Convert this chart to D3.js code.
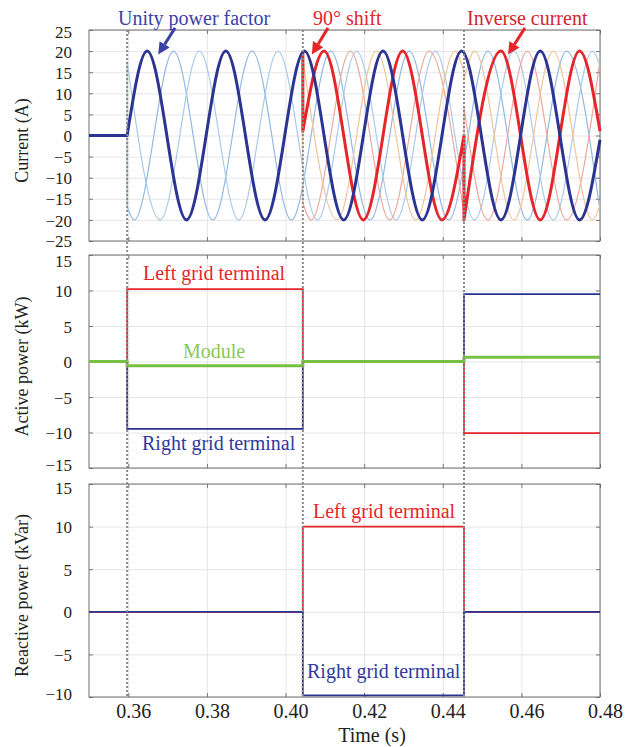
<!DOCTYPE html>
<html>
<head>
<meta charset="utf-8">
<script src="https://cdn.jsdelivr.net/npm/d3@7"></script>
<style>
	body { margin: 0; background: #fff; }
	text { font-family: "Liberation Serif", "Times New Roman", serif; }
</style>
</head>
<body>
<div id="vis"></div>
<script>
// time axis
const TIME_DOMAIN = [0.35, 0.48];
const TIME_TICKS = [0.36, 0.38, 0.40, 0.42, 0.44, 0.46, 0.48];
const EVENT_TIMES = [0.3597, 0.4044, 0.4454];

// y ticks
const CURRENT_TICKS = [-25, -20, -15, -10, -5, 0, 5, 10, 15, 20, 25];
const ACTIVE_TICKS = [-15, -10, -5, 0, 5, 10, 15];
const REACTIVE_TICKS = [-10, -5, 0, 5, 10, 15];

// currents [time, A] read at the peaks / troughs; each inner list is one smooth piece, a new piece = a jump
const BLUE_THICK = [
	[[0.35, 0], [0.3597, 0]],
	[[0.3597, 0], [0.3648, 20], [0.3748, -20], [0.3848, 20], [0.3948, -20], [0.4048, 20], [0.4148, -20],
	 [0.4248, 20], [0.4348, -20], [0.4448, 20], [0.4548, -20], [0.4648, 20], [0.4748, -20], [0.48, -1]]
];
const BLUE_THIN_B = [
	[[0.3597, 0]],
	[[0.3597, -16.9], [0.3615, -20], [0.3715, 20], [0.3815, -20], [0.3915, 20], [0.4015, -20], [0.4115, 20],
	 [0.4215, -20], [0.4315, 20], [0.4415, -20], [0.4515, 20], [0.4615, -20], [0.4715, 20], [0.48, -17.8]]
];
const BLUE_THIN_C = [
	[[0.3597, 0]],
	[[0.3597, 17.5], [0.3681, -20], [0.3781, 20], [0.3881, -20], [0.3981, 20], [0.4081, -20], [0.4181, 20],
	 [0.4281, -20], [0.4381, 20], [0.4481, -20], [0.4581, 20], [0.4681, -20], [0.4781, 20], [0.48, 16.5]]
];
const RED_THICK = [
	[[0.4044, 20]],
	[[0.4044, 1], [0.4098, 20], [0.4198, -20], [0.4298, 20], [0.4398, -20], [0.4454, 0]],
	[[0.4454, -20], [0.4548, 20], [0.4648, -20], [0.4748, 20], [0.48, 1]]
];
const RED_THIN_B = [
	[[0.4044, -12.2]],
	[[0.4044, -15.9], [0.4065, -20], [0.4165, 20], [0.4265, -20], [0.4365, 20], [0.4454, -18.8]],
	[[0.4454, 6.8], [0.4515, -20], [0.4615, 20], [0.4715, -20], [0.48, 17.8]]
];
const RED_THIN_C = [
	[[0.4044, -7.9]],
	[[0.4044, 18.4], [0.4131, -20], [0.4231, 20], [0.4331, -20], [0.4431, 20], [0.4454, 15]],
	[[0.4454, 13.2], [0.4481, 20], [0.4581, -20], [0.4681, 20], [0.4781, -20], [0.48, -16.5]]
];

// active power [time, kW]
const LEFT_ACTIVE = [[0.35, 0], [0.3597, 0], [0.3597, 10.2], [0.4044, 10.2], [0.4044, 0], [0.4454, 0], [0.4454, -10.1], [0.48, -10.1]];
const RIGHT_ACTIVE = [[0.35, 0], [0.3597, 0], [0.3597, -9.5], [0.4044, -9.5], [0.4044, 0], [0.4454, 0], [0.4454, 9.5], [0.48, 9.5]];
const MODULE_ACTIVE = [[0.35, 0], [0.3597, 0], [0.3597, -0.6], [0.4044, -0.6], [0.4044, 0], [0.4454, 0], [0.4454, 0.6], [0.48, 0.6]];

// reactive power [time, kVar]
const LEFT_REACTIVE = [[0.35, 0], [0.4044, 0], [0.4044, 10], [0.4454, 10], [0.4454, 0], [0.48, 0]];
const RIGHT_REACTIVE = [[0.35, 0], [0.4044, 0], [0.4044, -9.8], [0.4454, -9.8], [0.4454, 0], [0.48, 0]];

const BLUE = "#2c3491";
const RED = "#e5262b";
const GREEN = "#78c043";

const FRAME_WIDTH = 637;
const FRAME_HEIGHT = 747;
const LEFT = 89;
const RIGHT = 600;

const FRAME = d3.select("#vis")
				.append("svg")
					.attr("width", FRAME_WIDTH)
					.attr("height", FRAME_HEIGHT)
					.style("background", "#fff");

const X = d3.scaleLinear().domain(TIME_DOMAIN).range([LEFT, RIGHT]);

// nudge = how far the edge tick labels are pulled inside the box
const PANELS = [
	{domain: [-25, 25], top: 30, bottom: 241, ticks: CURRENT_TICKS, title: "Current (A)", nudge: [1, 1]},
	{domain: [-15, 15], top: 255, bottom: 468, ticks: ACTIVE_TICKS, title: "Active power (kW)", nudge: [5, 4]},
	{domain: [-10, 15], top: 484, bottom: 697, ticks: REACTIVE_TICKS, title: "Reactive power (kVar)", nudge: [3, 4]}
];
PANELS.forEach((p) => {
	p.y = d3.scaleLinear().domain(p.domain).range([p.bottom, p.top]);
});

// frames, grids, ticks
PANELS.forEach((p, i) => {
	const W = RIGHT - LEFT;
	const H = p.bottom - p.top;

	// grid
	FRAME.append("g")
		.attr("transform", "translate(0," + p.bottom + ")")
		.call(d3.axisBottom(X).tickValues(TIME_TICKS).tickSize(-H).tickFormat(""))
		.call((g) => g.select(".domain").remove())
		.selectAll("line").attr("stroke", "#e0e0e0").attr("stroke-width", 0.8);
	FRAME.append("g")
		.attr("transform", "translate(" + LEFT + ",0)")
		.call(d3.axisLeft(p.y).tickValues(p.ticks).tickSize(-W).tickFormat(""))
		.call((g) => g.select(".domain").remove())
		.selectAll("line").attr("stroke", "#e0e0e0").attr("stroke-width", 0.8);

	// left axis with labels
	const [lo, hi] = p.domain;
	const left = FRAME.append("g")
		.attr("transform", "translate(" + LEFT + ",0)")
		.call(d3.axisLeft(p.y).tickValues(p.ticks).tickSize(-4).tickPadding(17));
	left.select(".domain").remove();
	left.selectAll("line").attr("stroke", "#777");
	left.selectAll("text")
		.attr("font-size", "17px")
		.attr("font-family", "Liberation Serif")
		.attr("fill", "#222")
		.attr("y", (d) => d === hi ? p.nudge[0] : (d === lo ? -p.nudge[1] : 0))
		.attr("dy", "0.36em");

	// right, top, bottom ticks
	FRAME.append("g")
		.attr("transform", "translate(" + RIGHT + ",0)")
		.call(d3.axisRight(p.y).tickValues(p.ticks).tickSize(-4).tickFormat(""))
		.call((g) => g.select(".domain").remove())
		.selectAll("line").attr("stroke", "#777");
	FRAME.append("g")
		.attr("transform", "translate(0," + p.top + ")")
		.call(d3.axisTop(X).tickValues(TIME_TICKS).tickSize(-4).tickFormat(""))
		.call((g) => g.select(".domain").remove())
		.selectAll("line").attr("stroke", "#777");

	const bottom = FRAME.append("g")
		.attr("transform", "translate(0," + p.bottom + ")")
		.call(d3.axisBottom(X).tickValues(TIME_TICKS).tickSize(-4).tickPadding(7)
			.tickFormat(i === PANELS.length - 1 ? d3.format(".2f") : ""));
	bottom.select(".domain").remove();
	bottom.selectAll("line").attr("stroke", "#777");
	bottom.selectAll("text")
		.attr("font-size", "20px")
		.attr("font-family", "Liberation Serif")
		.attr("dx", 5)
		.attr("fill", "#222");

	// frame
	FRAME.append("rect")
		.attr("x", LEFT)
		.attr("y", p.top)
		.attr("width", W)
		.attr("height", H)
		.attr("fill", "none")
		.attr("stroke", "#6e6e6e")
		.attr("stroke-width", 1);

	// title
	FRAME.append("text")
		.attr("transform", "translate(28," + ((p.top + p.bottom) / 2 + 5) + ") rotate(-90)")
		.attr("text-anchor", "middle")
		.attr("font-size", "18px")
		.attr("fill", "#222")
		.text(p.title);
});

// currents
const CUR = PANELS[0];

function piecePath(y, pieces) {
	const line = d3.line()
					.x((d) => X(d[0]))
					.y((d) => y(d[1]))
					.curve(d3.curveMonotoneX);
	return pieces.map((p, i) => i ? line(p).replace(/^M/, "L") : line(p)).join("");
}

const WAVES = [
	{data: BLUE_THIN_B, color: "#92b8e0", width: 1.2},
	{data: BLUE_THIN_C, color: "#a9cae9", width: 1.2},
	{data: RED_THIN_B, color: "#eca89e", width: 1.2},
	{data: RED_THIN_C, color: "#f0c49a", width: 1.2},
	{data: RED_THICK, color: RED, width: 3},
	{data: BLUE_THICK, color: BLUE, width: 3}
];

FRAME.append("g")
	.selectAll("path")
	.data(WAVES)
	.enter()
	.append("path")
		.attr("d", (d) => piecePath(CUR.y, d.data))
		.attr("fill", "none")
		.attr("stroke", (d) => d.color)
		.attr("stroke-width", (d) => d.width)
		.attr("stroke-linejoin", "round");

// power steps
const STEPS = [
	{panel: PANELS[1], data: LEFT_ACTIVE, color: RED, width: 1.8},
	{panel: PANELS[1], data: RIGHT_ACTIVE, color: BLUE, width: 1.8},
	{panel: PANELS[1], data: MODULE_ACTIVE, color: GREEN, width: 3},
	{panel: PANELS[2], data: LEFT_REACTIVE, color: RED, width: 1.8},
	{panel: PANELS[2], data: RIGHT_REACTIVE, color: BLUE, width: 1.8}
];

FRAME.append("g")
	.selectAll("path")
	.data(STEPS)
	.enter()
	.append("path")
		.attr("d", (d) => d3.line().x((v) => X(v[0])).y((v) => d.panel.y(v[1]))(d.data))
		.attr("fill", "none")
		.attr("stroke", (d) => d.color)
		.attr("stroke-width", (d) => d.width);

// event lines
FRAME.append("g")
	.selectAll("line")
	.data(EVENT_TIMES)
	.enter()
	.append("line")
		.attr("x1", (d) => X(d))
		.attr("x2", (d) => X(d))
		.attr("y1", PANELS[0].top)
		.attr("y2", PANELS[2].bottom)
		.attr("stroke", "#8a8a8a")
		.attr("stroke-width", 2)
		.attr("stroke-dasharray", "2,2");

// annotations (time, value in that panel)
const LABELS = [
	{panel: 0, t: 0.35738, v: 26.2, text: "Unity power factor", color: "#3a42a6"},
	{panel: 0, t: 0.40699, v: 26.2, text: "90° shift", color: RED},
	{panel: 0, t: 0.44616, v: 26.2, text: "Inverse current", color: "#d1262c"},
	{panel: 1, t: 0.36374, v: 11.48, text: "Left grid terminal", color: RED},
	{panel: 1, t: 0.37391, v: 0.49, text: "Module", color: "#8cc654"},
	{panel: 1, t: 0.36348, v: -12.46, text: "Right grid terminal", color: "#2f3aa0"},
	{panel: 2, t: 0.40699, v: 11.03, text: "Left grid terminal", color: RED},
	{panel: 2, t: 0.40546, v: -7.75, text: "Right grid terminal", color: "#2f3aa0"}
];

FRAME.append("g")
	.selectAll("text")
	.data(LABELS)
	.enter()
	.append("text")
		.attr("x", (d) => X(d.t))
		.attr("y", (d) => PANELS[d.panel].y(d.v))
		.attr("font-size", "20px")
		.attr("fill", (d) => d.color)
		.text((d) => d.text);

// arrows (tail -> tip)
const ARROWS = [
	{from: [0.3719, 25.5], to: [0.3676, 19.2], color: "#3a42a6"},
	{from: [0.4108, 25.5], to: [0.4067, 19.2], color: RED},
	{from: [0.4609, 25.5], to: [0.4566, 19.2], color: RED}
];

ARROWS.forEach((a) => {
	const x1 = X(a.from[0]), y1 = CUR.y(a.from[1]);
	const x2 = X(a.to[0]), y2 = CUR.y(a.to[1]);
	const ang = Math.atan2(y2 - y1, x2 - x1);
	const len = 12, half = 6;
	const bx = x2 - len * Math.cos(ang), by = y2 - len * Math.sin(ang);
	FRAME.append("line")
		.attr("x1", x1).attr("y1", y1)
		.attr("x2", bx).attr("y2", by)
		.attr("stroke", a.color)
		.attr("stroke-width", 3);
	FRAME.append("path")
		.attr("d", "M" + x2 + "," + y2 +
			"L" + (bx + half * Math.sin(ang)) + "," + (by - half * Math.cos(ang)) +
			"L" + (bx - half * Math.sin(ang)) + "," + (by + half * Math.cos(ang)) + "Z")
		.attr("fill", a.color);
});

// x title
FRAME.append("text")
	.attr("x", 372)
	.attr("y", 742)
	.attr("text-anchor", "middle")
	.attr("font-size", "20px")
	.attr("fill", "#222")
	.text("Time (s)");
</script>
</body>
</html>
